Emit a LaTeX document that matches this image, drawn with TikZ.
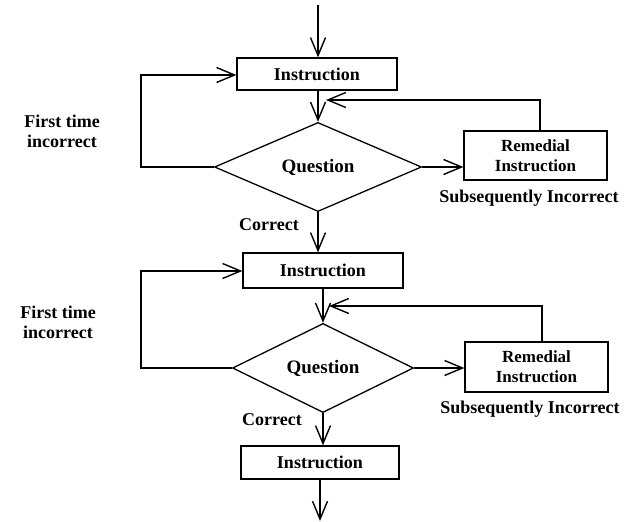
\documentclass[tikz,border=0pt]{standalone}
\usepackage{fontspec}
\setmainfont{Liberation Serif}
\usetikzlibrary{shapes.geometric,arrows.meta,calc}
\begin{document}
\begin{tikzpicture}[x=1pt,y=-1pt,
  every node/.style={font=\bfseries\fontsize{18}{20}\selectfont},
  box/.style={draw,rectangle,line width=1.3pt,inner sep=0pt},
  qbox/.style={draw,diamond,line width=1.3pt,inner sep=0pt,font=\bfseries\fontsize{19}{21}\selectfont},
  lbl/.style={align=center,inner sep=0pt},
  conn/.style={line width=1.3pt},
  arr/.style={conn,-{Straight Barb[length=18pt,width=15pt,line width=1.4pt]}}]
\useasboundingbox (0,0) rectangle (633,522);
% nodes
\coordinate (start) at (318,5);
\node[box,minimum width=160pt,minimum height=32pt] (ins1) at (317,74) {Instruction};
\node[qbox,minimum width=207pt,minimum height=85pt] (q1) at (318,167) {Question};
\node[box,minimum width=143pt,minimum height=49pt,align=center,font=\bfseries\fontsize{17}{20}\selectfont] (rem1) at (535.5,155.5) {Remedial\\Instruction};
\node[box,minimum width=160pt,minimum height=35pt] (ins2) at (323,270.5) {Instruction};
\node[qbox,minimum width=181pt,minimum height=73pt] (q2) at (323,368) {Question};
\node[box,minimum width=143pt,minimum height=50pt,align=center,font=\bfseries\fontsize{17}{20}\selectfont] (rem2) at (536.5,367) {Remedial\\Instruction};
\node[box,minimum width=158pt,minimum height=33pt] (ins3) at (320,462.5) {Instruction};
\coordinate (end) at (320,521);
% helper coordinates
\coordinate (l1) at (141,167);
\coordinate (l1t) at (141,75);
\coordinate (f1) at (540,100);
\coordinate (f1e) at (326,100);
\coordinate (l2) at (141,368);
\coordinate (l2t) at (141,271);
\coordinate (f2) at (542,306);
\coordinate (f2e) at (329,306);
% labels
\node[lbl] (ft1) at (62,131) {First time\\incorrect};
\node[lbl] (ft2) at (58,322) {First time\\incorrect};
\node[lbl] (si1) at (529,198) {Subsequently Incorrect};
\node[lbl] (si2) at (530,409) {Subsequently Incorrect};
\node[lbl] (c1) at (269,225) {Correct};
\node[lbl] (c2) at (272,420) {Correct};
% connectors
\draw[arr] (start) -- (start |- ins1.north);
\draw[arr] (ins1.south -| q1.north) -- (q1.north);
\draw[arr] (q1.west) -- (l1) -- (l1t) -- (l1t -| ins1.west);
\draw[arr] (q1.east) -- (q1.east -| rem1.west);
\draw[arr] (f1 |- rem1.north) -- (f1) -- (f1e);
\draw[arr] (q1.south) -- (q1.south |- ins2.north);
\draw[arr] (ins2.south -| q2.north) -- (q2.north);
\draw[arr] (q2.west) -- (l2) -- (l2t) -- (l2t -| ins2.west);
\draw[arr] (q2.east) -- (q2.east -| rem2.west);
\draw[arr] (f2 |- rem2.north) -- (f2) -- (f2e);
\draw[arr] (q2.south) -- (q2.south |- ins3.north);
\draw[arr] (ins3.south) -- (end);
\end{tikzpicture}
\end{document}
